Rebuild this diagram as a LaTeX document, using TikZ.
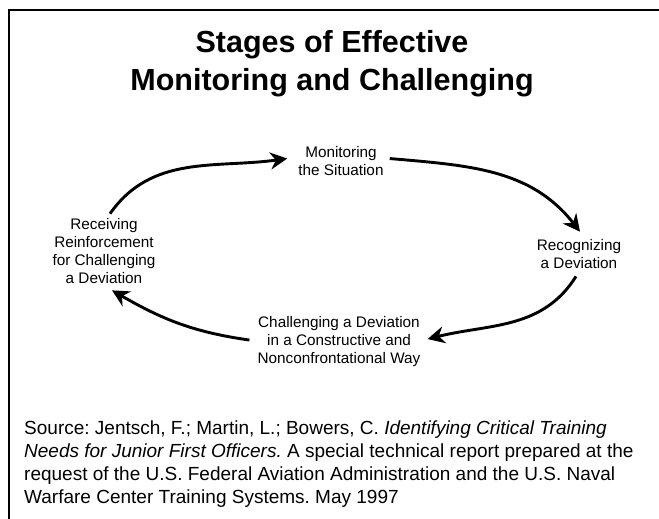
\documentclass[tikz,border=0pt]{standalone}
\usepackage{fontspec}
\setmainfont{Liberation Sans}
\usetikzlibrary{arrows.meta}

\tikzset{
  stage/.style={align=center, inner sep=0pt, anchor=base,
    font=\fontsize{15.3}{18}\selectfont},
  cycle/.style={line width=2.9pt,
    -{Stealth[length=17pt,width=17pt,inset=5.5pt]}},
  frame/.style={line width=1.5pt},
}

\begin{document}
\frenchspacing
\begin{tikzpicture}[x=1pt,y=1pt]
  % canvas
  \useasboundingbox (0,0) rectangle (659,-519);
  \draw[frame] (9,-519) -- (9,-10) -- (659,-10);

  % title (base anchor sits on the last line)
  \node[align=center, inner sep=0pt, anchor=base,
        font=\fontsize{30.5}{38}\selectfont\bfseries] (title) at (332,-91)
    {Stages of Effective\\Monitoring and Challenging};

  % the four stages
  \node[stage] (mon)   at (341,-175) {Monitoring\\the Situation};
  \node[stage] (recog) at (579,-268) {Recognizing\\a Deviation};
  \node[stage] (chal)  at (339,-363) {Challenging a Deviation\\in a Constructive and\\Nonconfrontational Way};
  \node[stage] (recv)  at (104,-283) {Receiving\\Reinforcement\\for Challenging\\a Deviation};

  % cycle arrows
  \draw[cycle] ([xshift=6pt,yshift=4pt]recv.north) to[out=55,in=188]
               ([xshift=-11pt,yshift=2pt]mon.west);
  \draw[cycle] ([xshift=6pt,yshift=2pt]mon.east) to[out=-5,in=128]
               ([xshift=1pt,yshift=7pt]recog.north);
  \draw[cycle] ([xshift=-3pt,yshift=-8pt]recog.south) to[out=-122,in=14]
               ([xshift=7pt,yshift=2pt]chal.east);
  \draw[cycle] ([xshift=-8pt,yshift=1pt]chal.west) to[out=172,in=-30]
               ([xshift=8pt,yshift=-7pt]recv.south);

  % source note
  \node[align=left, inner sep=0pt, anchor=base west,
        font=\fontsize{19}{22.8}\selectfont] (src) at (24,-503)
    {Source: Jentsch, F.; Martin, L.; Bowers, C. \textit{Identifying Critical Training}\\
     \textit{Needs for Junior First Officers.} A special technical report prepared at the\\
     request of the U.S. Federal Aviation Administration and the U.S. Naval\\
     Warfare Center Training Systems. May 1997};
\end{tikzpicture}
\end{document}
